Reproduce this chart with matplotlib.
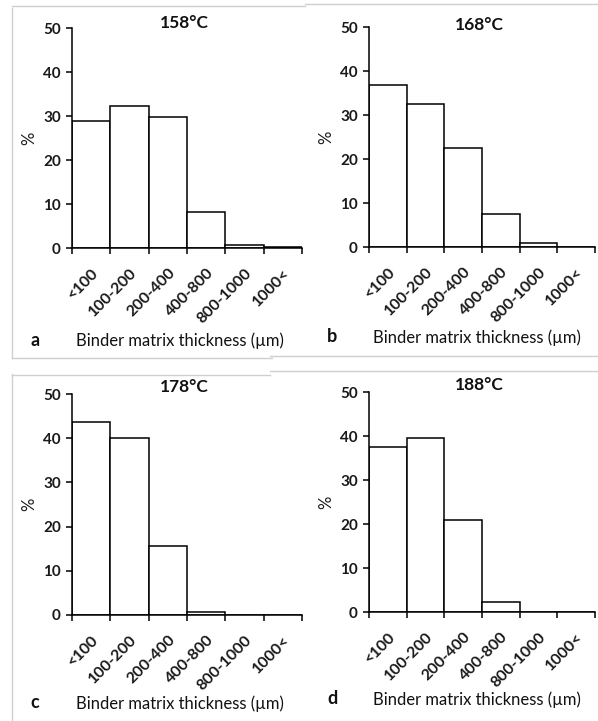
import matplotlib.pyplot as plt
import numpy as np
from matplotlib.lines import Line2D

plt.rcParams['font.family'] = ['Lato', 'DejaVu Sans']

categories = ["<100", "100-200", "200-400", "400-800", "800-1000", "1000<"]
temps = ["158°C", "168°C", "178°C", "188°C"]
letters = ["a", "b", "c", "d"]
pct_158 = [28.9, 32.2, 29.8, 8.2, 0.6, 0.25]
pct_168 = [36.9, 32.6, 22.6, 7.6, 0.9, 0.0]
pct_178 = [43.7, 40.1, 15.5, 0.6, 0.0, 0.0]
pct_188 = [37.5, 39.5, 20.9, 2.3, 0.0, 0.0]
series = [pct_158, pct_168, pct_178, pct_188]

W, H = 598, 721
fig = plt.figure(figsize=(W / 100, H / 100), dpi=100)


def fx(px):
    return px / W


def fy(py):
    return 1 - py / H


# axes boxes in pixels: left, right, top, bottom
boxes = [(72, 302, 28, 248), (369, 595, 27, 247),
         (72, 302, 394, 615), (369, 595, 392, 612)]
label_y = [340, 337, 703, 699]
title_y = [23, 25, 387, 385]

x = np.arange(len(categories))
for i, (l, r, t, b) in enumerate(boxes):
    ax = fig.add_axes([fx(l), fy(b), fx(r) - fx(l), (b - t) / H])
    ax.bar(x, series[i], width=1.0, align="edge", color="white",
           edgecolor="black", linewidth=1.1)
    ax.set_xlim(0, len(categories))
    ax.set_ylim(0, 50)
    ax.set_yticks([0, 10, 20, 30, 40, 50])
    ax.set_xticks(np.arange(len(categories) + 1))
    ax.set_xticklabels([])
    ax.set_xticks(x + 0.5, minor=True)
    ax.set_xticklabels(categories, minor=True, rotation=45, ha="right",
                       va="top", rotation_mode="anchor",
                       fontsize=11.5, fontweight="bold", color="#1a1a1a")
    ax.tick_params(axis="x", which="minor", length=0, pad=13)
    ax.tick_params(axis="x", which="major", direction="out", length=4, width=1.1)
    ax.tick_params(axis="y", direction="out", length=4, width=1.1,
                   labelsize=11, pad=4, labelcolor="#1a1a1a")
    for lab in ax.get_yticklabels():
        lab.set_fontweight("bold")
    for s in ["top", "right"]:
        ax.spines[s].set_visible(False)
    for s in ["left", "bottom"]:
        ax.spines[s].set_linewidth(1.1)
    ax.set_ylabel("%", fontsize=12, labelpad=4, color="#1a1a1a")
    ax.set_facecolor("none")

    cx = (l + r) / 2 - 3
    fig.text(fx(cx), fy(title_y[i]), temps[i], ha="center", va="center",
             fontsize=12.5, fontweight="bold", color="#111111")
    fig.text(fx(l - 37), fy(label_y[i]), letters[i], ha="center", va="center",
             fontsize=13, fontweight="bold", color="#111111")
    fig.text(fx(l + 4), fy(label_y[i] + 1), "Binder matrix thickness (µm)",
             ha="left", va="center", fontsize=12, color="#111111")

# light grey panel frames
grey = "#cfcfcf"
frame_lines = [
    ((12, 12), (8, 358)), ((12, 305), (6, 6)), ((12, 272), (358, 358)),
    ((305, 598), (4, 4)), ((270, 598), (356, 356)),
    ((12, 12), (374, 721)), ((12, 270), (375, 375)),
    ((270, 598), (371, 371)),
]
for xs, ys in frame_lines:
    fig.add_artist(Line2D([fx(xs[0]), fx(xs[1])], [fy(ys[0]), fy(ys[1])],
                          color=grey, lw=1.0))

fig.savefig("out.png", dpi=100)
